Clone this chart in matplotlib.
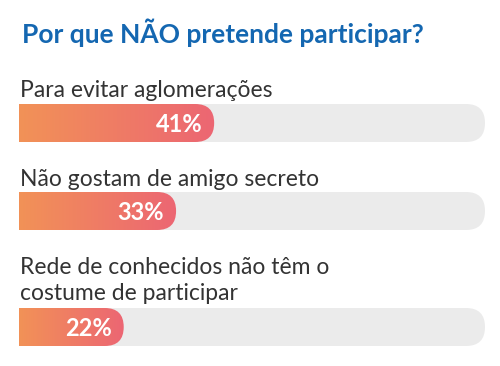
import numpy as np
import matplotlib
matplotlib.use("Agg")
import matplotlib.pyplot as plt
from matplotlib.patches import FancyBboxPatch, Rectangle
from matplotlib.colors import LinearSegmentedColormap

title = "Por que NÃO pretende participar?"
labels = ["Para evitar aglomerações",
          "Não gostam de amigo secreto",
          "Rede de conhecidos não têm o\ncostume de participar"]
values = [41, 33, 22]

plt.rcParams["font.family"] = ["Lato", "DejaVu Sans"]

fig = plt.figure(figsize=(5, 3.66), dpi=100)
ax = fig.add_axes([0, 0, 1, 1])
ax.set_xlim(0, 500)
ax.set_ylim(366, 0)
ax.axis("off")

x0, track_w, bar_h = 19, 466, 38
full_w = 476  # px for 100%
bar_tops = [104, 192, 308]
label_base = [97, 186, 274]

cmap = LinearSegmentedColormap.from_list("fill", ["#f29257", "#ec6673"])
grad = np.linspace(0, 1, 256).reshape(1, -1)

ax.text(22, 43, title, fontsize=19, fontweight="bold", color="#1467b1",
        va="baseline", ha="left")

for lbl, v, top, base in zip(labels, values, bar_tops, label_base):
    for i, line in enumerate(lbl.split("\n")):
        ax.text(x0 + 1, base + 26 * i, line, fontsize=16.5, color="#333333",
                va="baseline", ha="left")

    # grey track, square on the left, rounded on the right
    clip_t = Rectangle((x0, top - 1), track_w + 2, bar_h + 2, transform=ax.transData)
    track = FancyBboxPatch((x0 - bar_h, top), track_w + bar_h, bar_h,
                           boxstyle=f"round,pad=0,rounding_size={bar_h / 2}",
                           facecolor="#ebebeb", edgecolor="none")
    ax.add_patch(track)
    track.set_clip_path(clip_t)

    # gradient fill
    w = full_w * v / 100
    shape = FancyBboxPatch((x0 - bar_h, top), w + bar_h, bar_h,
                           boxstyle=f"round,pad=0,rounding_size={bar_h / 2}",
                           facecolor="none", edgecolor="none")
    ax.add_patch(shape)
    im = ax.imshow(grad, cmap=cmap, aspect="auto",
                   extent=(x0, x0 + w, top + bar_h, top), zorder=2)
    im.set_clip_path(shape)

    ax.text(x0 + w - 12, top + bar_h / 2 + 1, f"{v}%", fontsize=17,
            fontweight="bold", color="white", ha="right", va="center", zorder=3)

ax.set_xlim(0, 500)
ax.set_ylim(366, 0)
fig.savefig("out.png", dpi=100)
